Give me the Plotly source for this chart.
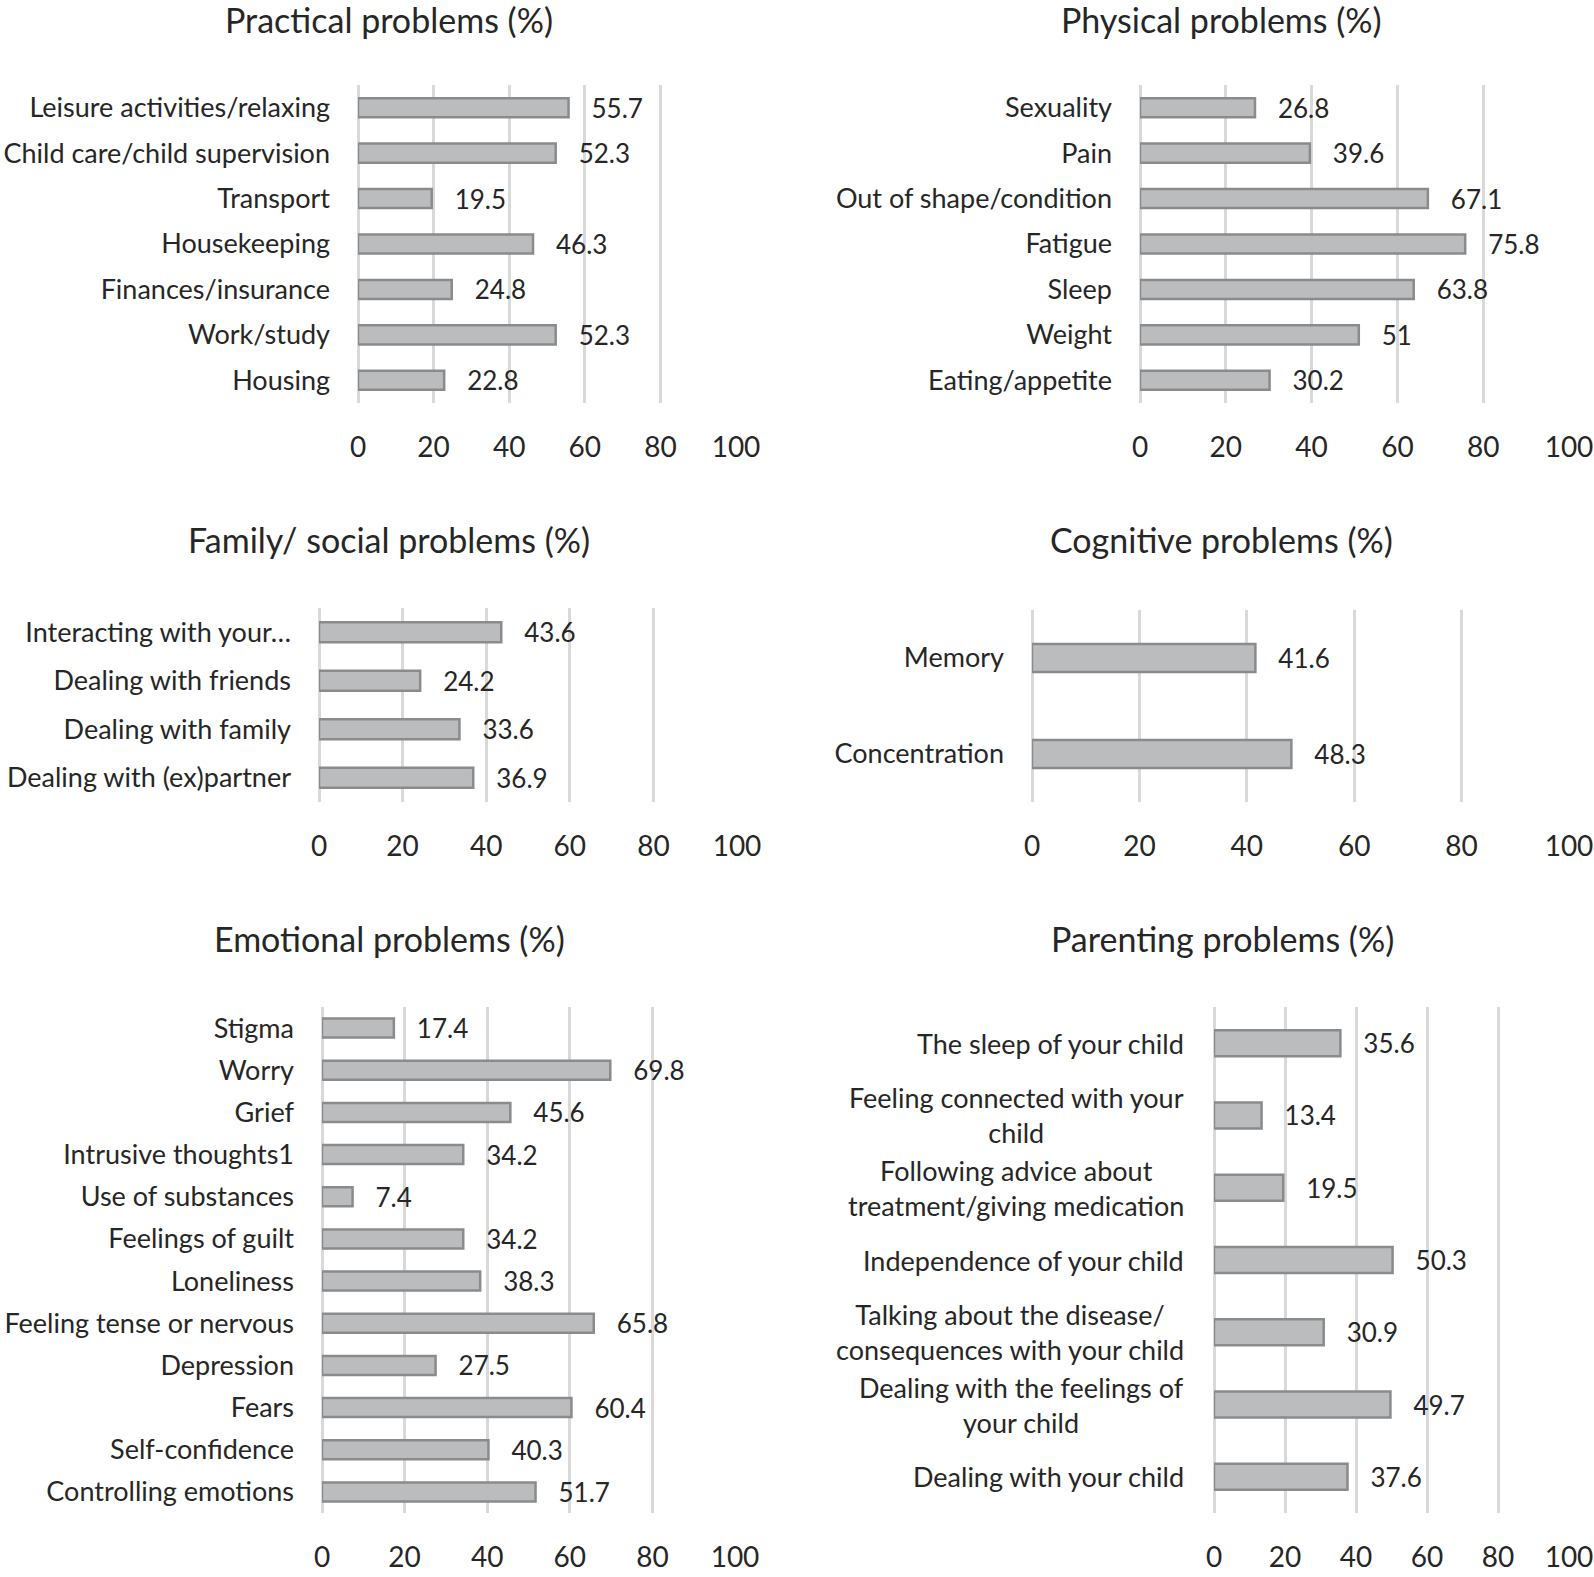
import plotly.graph_objects as go

W, H = 1594, 1577

practical_cats = ["Leisure activities/relaxing", "Child care/child supervision", "Transport",
                  "Housekeeping", "Finances/insurance", "Work/study", "Housing"]
practical_vals = [55.7, 52.3, 19.5, 46.3, 24.8, 52.3, 22.8]

physical_cats = ["Sexuality", "Pain", "Out of shape/condition", "Fatigue", "Sleep", "Weight",
                 "Eating/appetite"]
physical_vals = [26.8, 39.6, 67.1, 75.8, 63.8, 51, 30.2]

family_cats = ["Interacting with your…", "Dealing with friends", "Dealing with family",
               "Dealing with (ex)partner"]
family_vals = [43.6, 24.2, 33.6, 36.9]

cognitive_cats = ["Memory", "Concentration"]
cognitive_vals = [41.6, 48.3]

emotional_cats = ["Stigma", "Worry", "Grief", "Intrusive thoughts1", "Use of substances",
                  "Feelings of guilt", "Loneliness", "Feeling tense or nervous", "Depression",
                  "Fears", "Self-confidence", "Controlling emotions"]
emotional_vals = [17.4, 69.8, 45.6, 34.2, 7.4, 34.2, 38.3, 65.8, 27.5, 60.4, 40.3, 51.7]

parenting_cats = ["The sleep of your child", "Feeling connected with your<br>child",
                  "Following advice about<br>treatment/giving medication",
                  "Independence of your child",
                  "Talking about the disease/<br>consequences with your child",
                  "Dealing with the feelings of<br>your child", "Dealing with your child"]
parenting_vals = [35.6, 13.4, 19.5, 50.3, 30.9, 49.7, 37.6]

x_ticks = [0, 20, 40, 60, 80, 100]

titles = ["Practical problems (%)", "Physical problems (%)", "Family/ social problems (%)",
          "Cognitive problems (%)", "Emotional problems (%)", "Parenting problems (%)"]

FONT = "Lato"
TXT = "#262626"
BAR_FILL = "#BBBCBE"
BAR_LINE = "#8A8B8D"
GRID = "#D9D9D9"

# layout in window px: (cats, vals, x0px, x100px, ytop, ybot, barwidth, title_x, title_y, annotate_labels)
panels = [
    (practical_cats, practical_vals, 358, 736, 85, 403, 0.42, 389, 20, False),
    (physical_cats, physical_vals, 1140, 1569, 85, 403, 0.42, 1221, 20, False),
    (family_cats, family_vals, 319, 737, 608, 802, 0.41, 389, 540, False),
    (cognitive_cats, cognitive_vals, 1032, 1569, 610, 802, 0.29, 1221, 540, False),
    (emotional_cats, emotional_vals, 322, 735, 1007, 1513, 0.45, 389, 938, False),
    (parenting_cats, parenting_vals, 1214, 1569, 1007, 1513, 0.36, 1222, 938, True),
]


def px_x(v):
    return v / W


def px_y(v):
    return 1 - v / H


fig = go.Figure()
annotations = []
for i, (cats, vals, x0, x1, yt, yb, bw, tx, ty, ann) in enumerate(panels, start=1):
    xa = "x" if i == 1 else f"x{i}"
    ya = "y" if i == 1 else f"y{i}"
    fig.add_trace(go.Bar(
        x=vals, y=cats, orientation="h", xaxis=xa, yaxis=ya,
        width=bw,
        marker=dict(color=BAR_FILL, line=dict(color=BAR_LINE, width=2.5)),
        text=["\u00a0\u00a0\u00a0" + str(v) for v in vals],
        textposition="outside", constraintext="none", cliponaxis=False,
        textfont=dict(family=FONT, size=26, color=TXT),
        hoverinfo="x+y", showlegend=False,
    ))
    xkey = "xaxis" if i == 1 else f"xaxis{i}"
    ykey = "yaxis" if i == 1 else f"yaxis{i}"
    fig.update_layout(**{
        xkey: dict(domain=[px_x(x0), px_x(x1)], anchor=ya, range=[0, 100],
                   tickvals=x_ticks, showgrid=True, gridcolor=GRID, gridwidth=3,
                   zeroline=True, zerolinecolor=GRID, zerolinewidth=3, showline=False,
                   ticks="", ticklabelstandoff=25, automargin=False,
                   tickfont=dict(family=FONT, size=28, color=TXT)),
        ykey: dict(domain=[px_y(yb), px_y(yt)], anchor=xa, type="category",
                   categoryorder="array", categoryarray=cats, autorange="reversed",
                   showgrid=False, zeroline=False, showline=False, ticks="",
                   showticklabels=not ann, ticklabelstandoff=27, automargin=False,
                   tickfont=dict(family=FONT, size=27, color=TXT)),
    })
    annotations.append(dict(
        text=titles[i - 1], x=px_x(tx), y=px_y(ty), xref="paper", yref="paper",
        xanchor="center", yanchor="middle", showarrow=False,
        font=dict(family=FONT, size=34, color=TXT)))
    if ann:
        for c in cats:
            annotations.append(dict(
                text=c, x=0, xref=f"{xa} domain", y=c, yref=ya, xanchor="right",
                yanchor="middle", xshift=-28, align="center", showarrow=False,
                font=dict(family=FONT, size=27, color=TXT)))

fig.update_layout(
    width=W, height=H, margin=dict(l=0, r=0, t=0, b=0, autoexpand=False),
    paper_bgcolor="white", plot_bgcolor="white",
    annotations=annotations, bargap=0.5,
)

fig.write_html("out.html", config={"displayModeBar": False},
               post_script="document.body.style.margin='0';document.body.style.overflow='hidden';")
